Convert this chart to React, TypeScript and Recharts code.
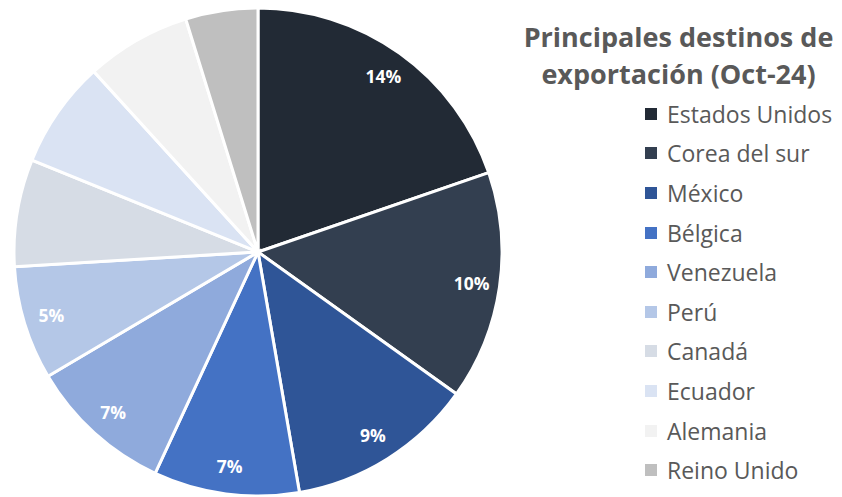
import React from "react";
import { PieChart, Pie, Cell, Legend } from "recharts";

const TITLE_LINES = ["Principales destinos de", "exportación (Oct-24)"];
const COUNTRIES = [
  "Estados Unidos",
  "Corea del sur",
  "México",
  "Bélgica",
  "Venezuela",
  "Perú",
  "Canadá",
  "Ecuador",
  "Alemania",
  "Reino Unido",
];
const SHARES = [13.6, 10.45, 8.55, 6.65, 6.6, 5.2, 4.9, 4.9, 4.8, 3.3];
const SLICE_LABELS = ["14%", "10%", "9%", "7%", "7%", "5%", "", "", "", ""];
const COLORS = [
  "#222a35",
  "#333f50",
  "#2f5597",
  "#4472c4",
  "#8faadc",
  "#b4c7e7",
  "#d6dce5",
  "#dae3f3",
  "#f2f2f2",
  "#bfbfbf",
];

const TEXT = "#595959";
const FONT = "'Open Sans', sans-serif";
const RAD = Math.PI / 180;

const data = COUNTRIES.map((name, i) => ({ name, value: SHARES[i] }));

// label near the outer edge, like excel's "inside end"
const renderLabel = (props: any) => {
  const { cx, cy, midAngle, outerRadius, index } = props;
  const txt = SLICE_LABELS[index];
  if (!txt) return null;
  const r = outerRadius - 28;
  const x = cx + r * Math.cos(-midAngle * RAD);
  const y = cy + r * Math.sin(-midAngle * RAD);
  return (
    <text
      x={x}
      y={y}
      fill="#ffffff"
      fontFamily={FONT}
      fontSize={17.5}
      fontWeight="bold"
      textAnchor="middle"
      dominantBaseline="central"
    >
      {txt}
    </text>
  );
};

const LegendBox = () => (
  <div style={{ fontFamily: FONT, color: TEXT }}>
    <div style={{ textAlign: "center", fontWeight: "bold", fontSize: 27, lineHeight: "37px", marginTop: 18 }}>
      {TITLE_LINES.map((t) => (
        <div key={t}>{t}</div>
      ))}
    </div>
    <div style={{ marginLeft: 130, marginTop: 2 }}>
      {COUNTRIES.map((c, i) => (
        <div key={c} style={{ display: "flex", alignItems: "center", height: 39.6, fontSize: 23, whiteSpace: "nowrap" }}>
          <span style={{ width: 12, height: 12, background: COLORS[i], marginRight: 10, display: "inline-block", flexShrink: 0 }} />
          <span>{c}</span>
        </div>
      ))}
    </div>
  </div>
);

export default function App() {
  return (
    <div style={{ position: "absolute", left: 0, top: 0, width: 842, height: 497, background: "#fff" }}>
      <PieChart width={842} height={497} margin={{ top: 0, right: 0, bottom: 0, left: 0 }}>
        <Pie
          data={data}
          dataKey="value"
          nameKey="name"
          cx={258}
          cy={252}
          outerRadius={244}
          startAngle={90}
          endAngle={-270}
          stroke="#ffffff"
          strokeWidth={3}
          label={renderLabel}
          labelLine={false}
          isAnimationActive={false}
        >
          {data.map((d, i) => (
            <Cell key={d.name} fill={COLORS[i]} />
          ))}
        </Pie>
        <Legend
          content={() => <LegendBox />}
          wrapperStyle={{ position: "absolute", left: 515, top: 0, width: 327 }}
        />
      </PieChart>
    </div>
  );
}
